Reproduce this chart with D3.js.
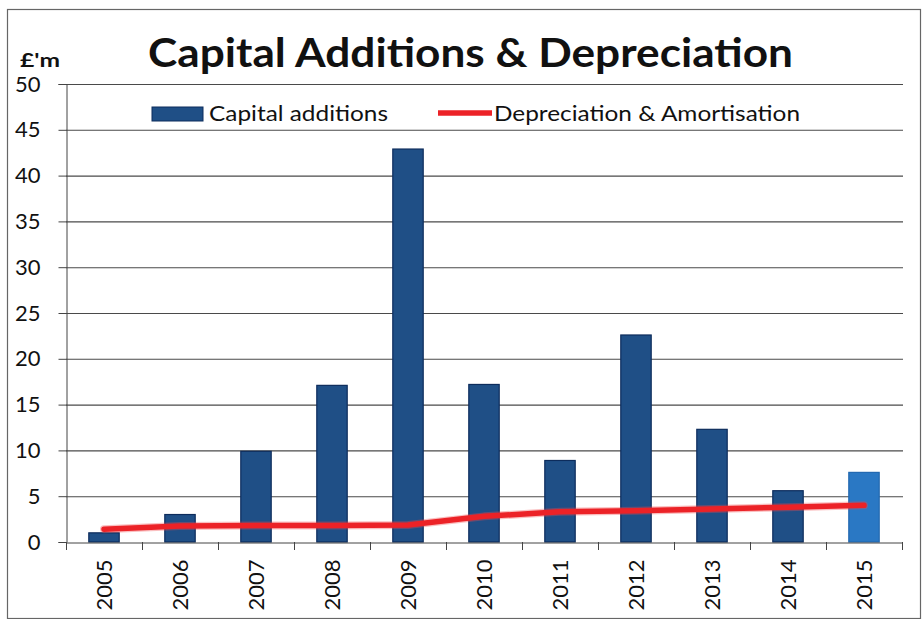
<!DOCTYPE html>
<html>
<head>
<meta charset="utf-8">
<script src="https://cdn.jsdelivr.net/npm/d3@7"></script>
<style>
  html, body { margin: 0; padding: 0; background: #fff; }
  svg { display: block; }
  text { font-family: Lato, "Open Sans", sans-serif; fill: #111; }
</style>
</head>
<body>
<svg id="chart" width="923" height="619"></svg>
<script>
// Financial years shown on the category axis
const years = ["2005", "2006", "2007", "2008", "2009", "2010", "2011", "2012", "2013", "2014", "2015"];
// Capital additions, £m
const capitalAdditions = [1.0, 3.0, 9.9, 17.1, 42.9, 17.2, 8.9, 22.6, 12.3, 5.6, 7.6];
// Depreciation & amortisation, £m
const depreciation = [1.4, 1.75, 1.8, 1.8, 1.85, 2.8, 3.3, 3.4, 3.6, 3.8, 4.0];
// Value axis ticks
const yTicks = [0, 5, 10, 15, 20, 25, 30, 35, 40, 45, 50];

const svg = d3.select("#chart");
const W = 923, H = 619;
const plot = { left: 66, right: 902, top: 84, bottom: 542 };

// outer frame
svg.append("rect")
  .attr("x", 7.5).attr("y", 9.5)
  .attr("width", W - 10).attr("height", H - 10)
  .attr("fill", "none").attr("stroke", "#666").attr("stroke-width", 1.2);

const x = d3.scaleBand().domain(years).range([plot.left, plot.right]).paddingInner(0.6).paddingOuter(0.3);
const xb = d3.scaleBand().domain(years).range([plot.left, plot.right]);
const y = d3.scaleLinear().domain([0, 50]).range([plot.bottom, plot.top]);

// horizontal gridlines
svg.append("g").selectAll("line").data(yTicks.filter(d => d > 0)).join("line")
  .attr("x1", plot.left).attr("x2", plot.right + 1)
  .attr("y1", d => y(d) + 0.5).attr("y2", d => y(d) + 0.5)
  .attr("stroke", "#4a4a4a").attr("stroke-width", 1.1);

// value axis
const yAxis = svg.append("g")
  .attr("transform", `translate(${plot.left + 0.5},0)`)
  .call(d3.axisLeft(y).tickValues(yTicks).tickSize(8).tickPadding(18));
yAxis.select(".domain").attr("stroke", "#444");
yAxis.selectAll(".tick line").attr("stroke", "#444");
yAxis.selectAll(".tick text").attr("font-size", 22).attr("fill", "#111")
  .attr("font-family", "Lato, sans-serif");

// bars
svg.append("g").selectAll("rect").data(years).join("rect")
  .attr("x", d => x(d))
  .attr("width", x.bandwidth())
  .attr("y", (d, i) => y(capitalAdditions[i]))
  .attr("height", (d, i) => y(0) - y(capitalAdditions[i]))
  .attr("fill", (d, i) => i === years.length - 1 ? "#2a78c4" : "#1f4f86")
  .attr("stroke", (d, i) => i === years.length - 1 ? "#2268b0" : "#0d2c5c")
  .attr("stroke-width", 1.2);

// category axis
const xAxis = svg.append("g")
  .attr("transform", `translate(0,${plot.bottom + 0.5})`)
  .call(d3.axisBottom(xb).tickSize(0).tickPadding(0));
xAxis.select(".domain").attr("stroke", "#444");
xAxis.selectAll(".tick text")
  .attr("font-size", 22).attr("fill", "#111").attr("font-family", "Lato, sans-serif")
  .attr("transform", "translate(0,17) rotate(-90)")
  .attr("text-anchor", "end").attr("dy", "0.35em").attr("x", 0).attr("y", 0);
// tick marks at category boundaries
svg.append("g").selectAll("line").data(d3.range(years.length + 1)).join("line")
  .attr("x1", i => plot.left + i * xb.step() + 0.5)
  .attr("x2", i => plot.left + i * xb.step() + 0.5)
  .attr("y1", plot.bottom).attr("y2", plot.bottom + 8)
  .attr("stroke", "#444");

// depreciation line
const line = d3.line()
  .x((d, i) => xb(years[i]) + xb.bandwidth() / 2)
  .y(d => y(d));
svg.append("path").datum(depreciation)
  .attr("d", line).attr("fill", "none")
  .attr("stroke", "#f0484a").attr("stroke-width", 8).attr("stroke-opacity", 0.35)
  .attr("stroke-linecap", "round").attr("stroke-linejoin", "round");
svg.append("path").datum(depreciation)
  .attr("d", line).attr("fill", "none")
  .attr("stroke", "#ec2227").attr("stroke-width", 5.5)
  .attr("stroke-linecap", "round").attr("stroke-linejoin", "round");

// title and unit label
svg.append("text").attr("x", 148).attr("y", 67)
  .attr("font-size", 41).attr("font-weight", 700).attr("fill", "#1a1a1a")
  .attr("textLength", 645).attr("lengthAdjust", "spacingAndGlyphs")
  .text("Capital Additions & Depreciation");
svg.append("text").attr("x", 20).attr("y", 67)
  .attr("font-size", 19).attr("font-weight", 700).attr("fill", "#1a1a1a")
  .attr("textLength", 40).attr("lengthAdjust", "spacingAndGlyphs")
  .text("£'m");

// legend
const lg = svg.append("g");
lg.append("rect").attr("x", 152).attr("y", 107).attr("width", 51).attr("height", 14)
  .attr("fill", "#1f4f86").attr("stroke", "#0d2c5c");
lg.append("text").attr("x", 209).attr("y", 121).attr("font-size", 22)
  .attr("textLength", 179).attr("lengthAdjust", "spacingAndGlyphs")
  .text("Capital additions");
lg.append("line").attr("x1", 438).attr("x2", 492).attr("y1", 113).attr("y2", 113)
  .attr("stroke", "#ec2227").attr("stroke-width", 5.5);
lg.append("text").attr("x", 494).attr("y", 121).attr("font-size", 22)
  .attr("textLength", 306).attr("lengthAdjust", "spacingAndGlyphs")
  .text("Depreciation & Amortisation");
</script>
</body>
</html>
